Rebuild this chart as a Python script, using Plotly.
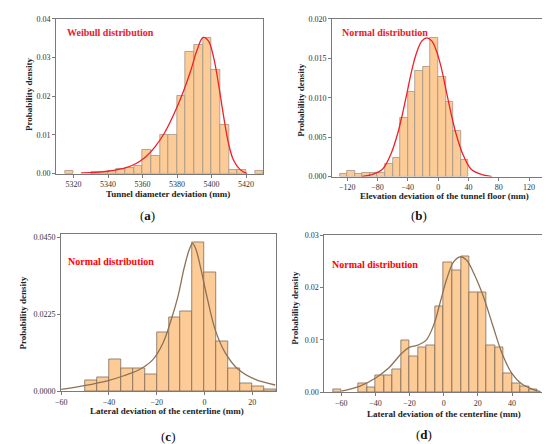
"""
Histogrammes des écarts du tunnel avec les courbes ajustées.
"""

import plotly.graph_objects as go

# (a) diamètre du tunnel
a_centers = [5317.5, 5332.5, 5337.5, 5342.5, 5347.5, 5352.5, 5357.5, 5362.5, 5367.5,
             5372.5, 5377.5, 5382.5, 5387.5, 5392.5, 5397.5, 5402.5, 5407.5, 5412.5,
             5417.5, 5427.5]
a_density = [0.0007, 0.0005, 0.0005, 0.0008, 0.0012, 0.0016, 0.0021, 0.0062, 0.0047,
             0.0100, 0.0100, 0.0200, 0.0315, 0.0332, 0.0351, 0.0268, 0.0126, 0.0010,
             0.0011, 0.0007]
a_fit_x = [5324.4, 5334.8, 5342.4, 5350.0, 5355.7, 5361.4, 5367.0, 5372.7, 5378.4,
           5383.2, 5387.9, 5391.7, 5395.1, 5398.3, 5401.2, 5404.0, 5406.9, 5409.7,
           5412.6, 5416.4, 5420.5]
a_fit_y = [0.0002, 0.0004, 0.0008, 0.0015, 0.0025, 0.0042, 0.0068, 0.0105, 0.0156,
           0.0207, 0.0266, 0.0321, 0.0352, 0.0342, 0.0300, 0.0232, 0.0150, 0.0080,
           0.0036, 0.0011, 0.0]

# (b) altitude du radier
b_centers = [-125, -115, -105, -95, -85, -75, -65, -55, -45, -35, -25, -15, -5,
             5, 15, 25, 35]
b_density = [0.0003, 0.00075, 0.0003, 0.0005, 0.0005, 0.0005, 0.0016, 0.0024, 0.0074,
             0.0108, 0.0134, 0.0139, 0.0176, 0.0126, 0.0095, 0.0058, 0.0021]
b_fit_x = [-100.9, -85.8, -72.9, -62.2, -53.6, -47.2, -40.7, -34.3, -27.8, -21.4, -15.0,
           -8.5, -2.1, 4.4, 10.8, 17.3, 23.7, 32.3, 43.0, 56.0, 71.0]
b_fit_y = [0.0, 0.0003, 0.0010, 0.0029, 0.0054, 0.0079, 0.0108, 0.0137, 0.0159, 0.0172,
           0.0176, 0.0172, 0.0159, 0.0137, 0.0108, 0.0079, 0.0054, 0.0029, 0.0010,
           0.0003, 0.0]

# (c) écart latéral de l'axe
c_centers = [-47.5, -42.5, -37.5, -32.5, -27.5, -22.5, -17.5, -12.5, -7.5, -2.5,
             2.5, 7.5, 12.5, 17.5, 22.5, 27.5]
c_density = [0.0030, 0.0040, 0.0093, 0.0066, 0.0066, 0.0050, 0.0171, 0.0215, 0.0234,
             0.0434, 0.0347, 0.0144, 0.0066, 0.0023, 0.0013, 0.0005]
c_fit_x = [-60.0, -50.3, -40.7, -33.8, -27.0, -21.5, -17.4, -14.0, -11.2, -8.5, -6.4,
           -5.0, -3.7, -1.6, 1.1, 4.5, 8.7, 14.1, 21.0, 29.6]
c_fit_y = [0.0005, 0.0016, 0.0030, 0.0045, 0.0064, 0.0093, 0.0140, 0.0207, 0.0274,
           0.0360, 0.0413, 0.0432, 0.0417, 0.0360, 0.0274, 0.0179, 0.0112, 0.0064,
           0.0035, 0.0018]

# (d) écart latéral de l'axe
d_centers = [-62.5, -47.5, -42.5, -37.5, -32.5, -27.5, -22.5, -17.5, -12.5, -7.5, -2.5,
             2.5, 7.5, 12.5, 17.5, 22.5, 27.5, 32.5, 37.5, 42.5, 47.5, 52.5]
d_density = [0.0005, 0.0016, 0.0010, 0.0032, 0.0032, 0.0043, 0.0100, 0.0069, 0.0085,
             0.0090, 0.0164, 0.0248, 0.0233, 0.0259, 0.0190, 0.0190, 0.0090, 0.0085,
             0.0036, 0.0016, 0.0011, 0.0005]
d_fit_x = [-59.9, -49.4, -39.9, -32.3, -24.7, -20.0, -15.2, -10.4, -5.7, -1.9, 1.9,
           5.7, 9.5, 13.3, 17.1, 22.8, 28.5, 34.2, 39.9, 45.6, 53.3, 56.7]
d_fit_y = [0.0002, 0.0011, 0.0027, 0.0046, 0.0074, 0.0086, 0.0090, 0.0099, 0.0130,
           0.0174, 0.0218, 0.0249, 0.0259, 0.0253, 0.0231, 0.0187, 0.0130, 0.0074,
           0.0036, 0.0016, 0.0004, 0.0001]

FONT = "Liberation Serif"
BAR_FILL = "#FDCB96"
W, H = 550, 444


def px(x):
    return x / W


def py(y):
    return 1 - y / H


fig = go.Figure()

panels = [
    # données, largeur, couleur courbe, contour, axes
    (a_centers, a_density, 5, a_fit_x, a_fit_y, "#F0202A", "#A09488", "x", "y"),
    (b_centers, b_density, 10, b_fit_x, b_fit_y, "#F0202A", "#A09488", "x2", "y2"),
    (c_centers, c_density, 5, c_fit_x, c_fit_y, "#8C7255", "#7E6C5C", "x3", "y3"),
    (d_centers, d_density, 5, d_fit_x, d_fit_y, "#8C7255", "#7E6C5C", "x4", "y4"),
]
for cx, cy, w, fx, fy, lc, oc, xa, ya in panels:
    fig.add_trace(go.Bar(x=cx, y=cy, width=w, marker_color=BAR_FILL,
                         marker_line_color=oc, marker_line_width=0.8,
                         xaxis=xa, yaxis=ya, showlegend=False))
    fig.add_trace(go.Scatter(x=fx, y=fy, mode="lines", line_shape="spline",
                             line=dict(color=lc, width=1.3),
                             xaxis=xa, yaxis=ya, showlegend=False))

tickfont = dict(family=FONT, size=8, color="#333")
common = dict(showline=True, mirror=True, linecolor="#7a7a7a", linewidth=1,
              ticks="outside", ticklen=3, tickcolor="#7a7a7a", tickfont=tickfont,
              showgrid=False, zeroline=False)

fig.update_layout(
    width=W, height=H, margin=dict(l=0, r=0, t=0, b=0),
    paper_bgcolor="white", plot_bgcolor="white", bargap=0,
    xaxis=dict(domain=[px(43), px(254)], range=[5310, 5430], tickvals=list(range(5320, 5421, 20)),
               anchor="y", **common),
    yaxis=dict(domain=[py(165), py(7)], range=[0, 0.04], tickvals=[0, 0.01, 0.02, 0.03, 0.04],
               tickformat=".2f", anchor="x", **common),
    xaxis2=dict(domain=[px(324), px(540)], range=[-140, 140], tickvals=list(range(-120, 121, 40)),
                anchor="y2", **common),
    yaxis2=dict(domain=[py(168), py(7)], range=[0, 0.020], tickvals=[0, 0.005, 0.01, 0.015, 0.02],
                tickformat=".3f", anchor="x2", **common),
    xaxis3=dict(domain=[px(48), px(267)], range=[-60, 30], tickvals=[-60, -40, -20, 0, 20],
                anchor="y3", **common),
    yaxis3=dict(domain=[py(387), py(227)], range=[0, 0.0458], tickvals=[0, 0.0225, 0.045],
                tickformat=".4f", anchor="x3", **common),
    xaxis4=dict(domain=[px(316), px(542)], range=[-70, 60], tickvals=list(range(-60, 61, 20)),
                anchor="y4", **common),
    yaxis4=dict(domain=[py(388), py(228)], range=[0, 0.03], tickvals=[0, 0.01, 0.02, 0.03],
                tickformat=".2f", anchor="x4", **common),
)

# textes
labels = [
    ("<b>Tunnel diameter deviation (mm)</b>", 157, 186, 0),
    ("<b>Elevation deviation of the tunnel floor (mm)</b>", 438, 188, 0),
    ("<b>Lateral deviation of the centerline (mm)</b>", 156, 407, 0),
    ("<b>Lateral deviation of the centerline (mm)</b>", 438, 410, 0),
    ("<b>Probability density</b>", 16, 84, -90),
    ("<b>Probability density</b>", 292, 90, -90),
    ("<b>Probability density</b>", 9, 307, -90),
    ("<b>Probability density</b>", 286, 302, -90),
]
for txt, x, y, ang in labels:
    fig.add_annotation(text=txt, x=px(x), y=py(y), xref="paper", yref="paper",
                       showarrow=False, textangle=ang, xanchor="center", yanchor="middle",
                       font=dict(family=FONT, size=9, color="#222"))

dist = [
    ("<b>Weibull distribution</b>", 52, 21, "#E8202A"),
    ("<b>Normal distribution</b>", 332, 21, "#E8202A"),
    ("<b>Normal distribution</b>", 53, 255, "#FF0000"),
    ("<b>Normal distribution</b>", 322, 258, "#FF0000"),
]
for txt, x, y, col in dist:
    fig.add_annotation(text=txt, x=px(x), y=py(y), xref="paper", yref="paper",
                       showarrow=False, xanchor="left", yanchor="middle",
                       font=dict(family=FONT, size=10, color=col))

for txt, x, y in [("(<b>a</b>)", 136, 208), ("(<b>b</b>)", 413, 208),
                  ("(<b>c</b>)", 157, 433), ("(<b>d</b>)", 418, 431)]:
    fig.add_annotation(text=txt, x=px(x), y=py(y), xref="paper", yref="paper",
                       showarrow=False, xanchor="center", yanchor="middle",
                       font=dict(family=FONT, size=13, color="#111"))

fig.write_html("out.html")
